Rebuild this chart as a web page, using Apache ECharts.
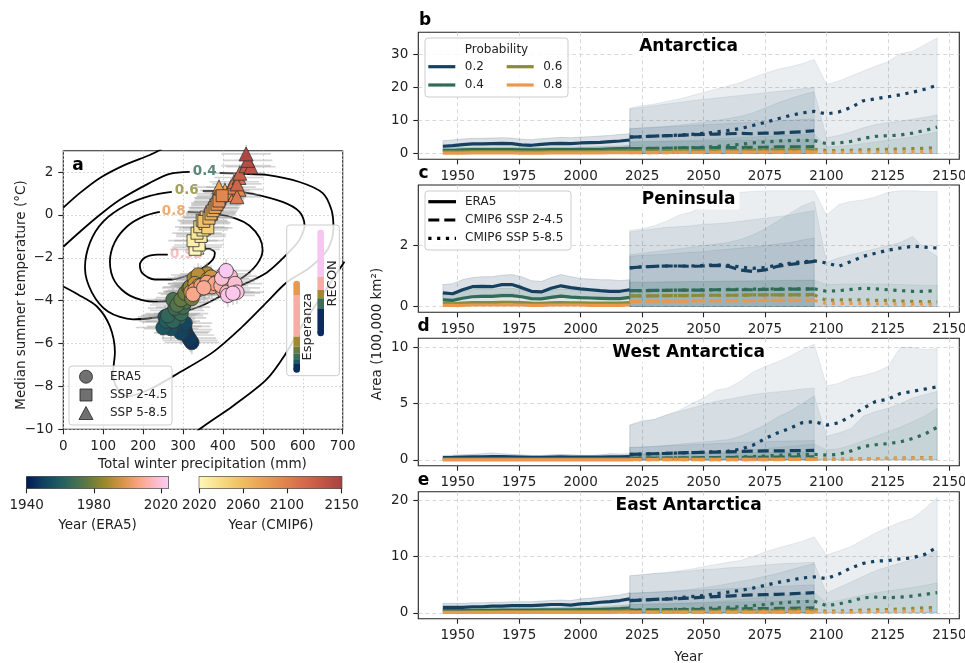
<!DOCTYPE html>
<html><head><meta charset="utf-8">
<script src="https://cdn.jsdelivr.net/npm/echarts@6/dist/echarts.min.js"></script>
<style>html,body{margin:0;padding:0;background:#fff}#c{width:965px;height:663px}</style>
</head><body><div id="c"></div>
<script>
// ---------------- DATA ----------------
const ERA5_YEARS = [1944,1948,1952,1956,1960,1964,1968,1972,1976,1980,1984,1988,1992,1996,2000,2004,2008,2012,2016,2020];
const S245_YEARS = [2020,2025,2030,2035,2040,2045,2050,2055,2060,2065,2070,2075,2080,2085,2090,2095];
const S585_YEARS = [2020,2025,2030,2035,2040,2045,2050,2055,2060,2065,2070,2075,2080,2085,2090,2095,2100,2105,2110,2115,2120,2125,2130,2135,2140,2145];
const YEAR_TICKS = [1950,1975,2000,2025,2050,2075,2100,2125,2150];
const ANT_TICKS = [0,10,20,30], PEN_TICKS = [0,2,4], WAN_TICKS = [0,5,10], EAN_TICKS = [0,10,20];
const PRECIP_TICKS = [0,100,200,300,400,500,600,700];
const TEMP_TICKS = [-10,-8,-6,-4,-2,0,2];
const ERA5_CBAR_TICKS = [1940,1980,2020];
const CMIP6_CBAR_TICKS = [2020,2060,2100,2150];
const PROB_LABELS = ['0.2','0.4','0.6','0.8'];

// Antarctica
const ANT_ERA5_P2 = [2.2,2.4,2.7,2.9,2.9,3.0,3.1,3.0,2.6,2.5,2.8,3.0,3.1,3.0,3.2,3.3,3.4,3.6,3.8,4.1];
const ANT_ERA5_P2_LO = [0.9,1.0,1.1,1.2,1.2,1.3,1.3,1.2,1.0,1.0,1.1,1.2,1.3,1.2,1.3,1.4,1.4,1.5,1.6,1.8];
const ANT_ERA5_P2_HI = [3.9,4.1,4.4,4.6,4.6,4.7,4.8,4.7,4.3,4.2,4.5,4.7,4.9,4.8,5.0,5.1,5.3,5.5,5.8,6.0];
const ANT_ERA5_P4 = [1.0,1.0,1.1,1.2,1.2,1.2,1.2,1.2,1.1,1.1,1.1,1.2,1.2,1.2,1.3,1.3,1.3,1.4,1.5,1.6];
const ANT_ERA5_P4_LO = [0.4,0.4,0.4,0.5,0.5,0.5,0.5,0.5,0.4,0.4,0.4,0.5,0.5,0.5,0.5,0.5,0.5,0.6,0.6,0.7];
const ANT_ERA5_P4_HI = [1.7,1.7,1.8,1.9,1.9,1.9,1.9,1.9,1.8,1.8,1.8,1.9,1.9,1.9,2.0,2.0,2.1,2.2,2.3,2.5];
const ANT_ERA5_P6 = [0.5,0.5,0.5,0.6,0.6,0.6,0.6,0.6,0.5,0.5,0.5,0.6,0.6,0.6,0.6,0.6,0.6,0.7,0.7,0.8];
const ANT_ERA5_P8 = [0.15,0.15,0.15,0.2,0.2,0.2,0.2,0.2,0.15,0.15,0.15,0.2,0.2,0.2,0.2,0.2,0.2,0.25,0.25,0.3];
const ANT_S245_P2 = [5.0,5.1,5.3,5.4,5.5,5.7,5.8,5.9,6.0,6.1,6.0,6.2,6.2,6.4,6.6,6.9];
const ANT_S245_P4 = [1.5,1.5,1.6,1.6,1.7,1.7,1.7,1.8,1.8,1.8,1.9,1.9,2.0,2.0,2.0,2.1];
const ANT_S245_P6 = [0.7,0.7,0.7,0.8,0.8,0.8,0.8,0.8,0.9,0.9,0.9,0.9,0.9,1.0,1.0,1.0];
const ANT_S245_P8 = [0.3,0.3,0.3,0.3,0.35,0.35,0.35,0.35,0.4,0.4,0.4,0.4,0.4,0.45,0.45,0.45];
const ANT_S245_B2OUT = [13.5,14.0,14.5,15.0,15.5,16.0,16.4,16.8,17.2,17.6,18.0,18.4,18.8,19.2,19.6,20.0];
const ANT_S245_B2IN = [7.5,7.7,7.9,8.1,8.3,8.5,8.7,8.9,9.1,9.3,9.5,9.7,9.9,10.1,10.3,10.5];
const ANT_S245_B4 = [3.5,3.6,3.6,3.7,3.7,3.8,3.8,3.9,3.9,4.0,4.0,4.1,4.1,4.2,4.2,4.3];
const ANT_S585_P2 = [5.0,5.1,5.3,5.4,5.6,5.8,6.1,6.5,7.0,7.6,8.5,9.4,10.5,11.5,12.3,12.8,12.0,12.6,14.0,16.0,16.6,17.2,17.8,18.6,19.5,20.7];
const ANT_S585_P4 = [1.5,1.5,1.6,1.6,1.7,1.8,1.9,2.1,2.4,2.8,3.2,3.5,3.8,3.9,4.0,3.9,3.0,3.2,3.7,4.6,5.2,5.4,5.6,6.2,7.0,8.0];
const ANT_S585_P6 = [0.7,0.7,0.7,0.8,0.8,0.8,0.9,0.9,1.0,1.0,1.1,1.1,1.2,1.2,1.3,1.3,0.9,0.9,1.0,1.1,1.2,1.3,1.4,1.5,1.6,1.8];
const ANT_S585_P8 = [0.3,0.3,0.3,0.3,0.35,0.35,0.35,0.4,0.4,0.4,0.45,0.45,0.5,0.5,0.5,0.5,0.35,0.35,0.4,0.4,0.45,0.45,0.5,0.5,0.55,0.6];
const ANT_S585_B2OUT = [13.8,14.5,15.0,15.8,16.5,17.5,18.5,19.5,20.5,21.5,23.0,24.3,25.5,26.3,27.2,28.5,21.0,22.0,23.5,25.0,26.5,27.8,30.3,31.0,33.0,35.0];
const ANT_S585_B2IN = [7.5,7.8,8.0,8.3,8.6,9.0,9.5,10.0,10.6,11.3,12.3,13.8,15.3,16.6,17.8,18.7,4.8,5.5,6.5,7.8,8.8,9.4,9.8,10.4,11.0,11.7];
const ANT_S585_B4 = [3.5,3.6,3.7,3.8,3.9,4.0,4.2,4.4,4.6,4.8,5.0,5.2,5.4,5.6,5.8,6.0,2.0,2.2,2.5,3.0,3.5,4.0,4.5,5.0,5.8,6.5];

// Peninsula
const PEN_ERA5_P2 = [0.45,0.42,0.55,0.65,0.66,0.65,0.72,0.72,0.62,0.5,0.48,0.6,0.68,0.62,0.58,0.55,0.52,0.5,0.5,0.55];
const PEN_ERA5_P2_LO = [0.25,0.22,0.3,0.36,0.38,0.38,0.42,0.42,0.35,0.28,0.26,0.33,0.38,0.35,0.32,0.3,0.3,0.28,0.28,0.3];
const PEN_ERA5_P2_HI = [0.72,0.75,0.88,0.95,0.98,0.98,1.03,1.05,0.98,0.85,0.82,0.95,1.05,0.98,0.92,0.9,0.88,0.88,0.85,0.88];
const PEN_ERA5_P4 = [0.22,0.2,0.27,0.32,0.33,0.33,0.36,0.36,0.32,0.26,0.25,0.3,0.34,0.31,0.29,0.28,0.27,0.26,0.26,0.3];
const PEN_ERA5_P4_LO = [0.1,0.09,0.12,0.15,0.15,0.15,0.17,0.17,0.15,0.12,0.11,0.14,0.16,0.14,0.13,0.13,0.12,0.12,0.12,0.14];
const PEN_ERA5_P4_HI = [0.42,0.4,0.5,0.55,0.57,0.57,0.6,0.6,0.55,0.48,0.46,0.53,0.58,0.55,0.52,0.5,0.49,0.48,0.48,0.52];
const PEN_ERA5_P6 = [0.1,0.09,0.11,0.13,0.13,0.13,0.14,0.14,0.13,0.11,0.1,0.12,0.13,0.12,0.12,0.11,0.11,0.11,0.11,0.13];
const PEN_ERA5_P8 = [0.04,0.04,0.04,0.05,0.05,0.05,0.05,0.05,0.05,0.04,0.04,0.05,0.05,0.05,0.05,0.04,0.04,0.04,0.04,0.05];
const PEN_S245_P2 = [1.27,1.30,1.32,1.33,1.33,1.32,1.33,1.35,1.32,1.20,1.15,1.20,1.32,1.38,1.43,1.48];
const PEN_S245_P4 = [0.52,0.52,0.53,0.53,0.54,0.54,0.54,0.55,0.55,0.55,0.55,0.56,0.56,0.57,0.57,0.58];
const PEN_S245_P6 = [0.35,0.35,0.35,0.36,0.36,0.36,0.37,0.37,0.37,0.37,0.38,0.38,0.38,0.38,0.39,0.39];
const PEN_S245_P8 = [0.17,0.17,0.18,0.18,0.18,0.18,0.19,0.19,0.19,0.19,0.19,0.2,0.2,0.2,0.2,0.2];
const PEN_S245_B2OUT = [2.45,2.5,2.55,2.6,2.62,2.65,2.7,2.72,2.75,2.8,2.85,2.9,2.95,3.0,3.08,3.15];
const PEN_S245_B2IN = [1.65,1.68,1.7,1.72,1.75,1.78,1.8,1.85,1.88,1.92,1.95,2.0,2.05,2.1,2.18,2.25];
const PEN_S245_B4 = [0.8,0.8,0.8,0.81,0.81,0.82,0.82,0.82,0.83,0.83,0.84,0.84,0.85,0.85,0.86,0.86];
const PEN_S585_P2 = [1.27,1.30,1.32,1.33,1.33,1.33,1.35,1.37,1.35,1.30,1.25,1.28,1.36,1.42,1.47,1.50,1.43,1.32,1.48,1.65,1.75,1.85,1.92,1.98,1.95,1.92];
const PEN_S585_P4 = [0.52,0.52,0.53,0.53,0.54,0.54,0.55,0.55,0.56,0.56,0.57,0.57,0.58,0.58,0.58,0.58,0.5,0.52,0.56,0.6,0.58,0.55,0.52,0.5,0.5,0.52];
const PEN_S585_P6 = [0.35,0.35,0.35,0.36,0.36,0.36,0.37,0.37,0.37,0.37,0.38,0.38,0.38,0.38,0.38,0.38,0.2,0.22,0.22,0.22,0.2,0.2,0.18,0.17,0.16,0.15];
const PEN_S585_P8 = [0.17,0.17,0.18,0.18,0.18,0.18,0.19,0.19,0.19,0.19,0.19,0.2,0.2,0.2,0.2,0.2,0.1,0.1,0.1,0.1,0.09,0.09,0.08,0.08,0.08,0.07];
const PEN_S585_B2OUT = [2.5,2.55,2.65,2.8,3.0,3.1,3.3,3.55,3.7,3.75,3.78,3.8,3.8,3.8,3.8,3.8,3.0,3.35,3.45,3.5,3.6,3.75,3.8,3.8,3.78,3.78];
const PEN_S585_B2IN = [1.7,1.75,1.8,1.85,1.9,1.95,2.0,2.05,2.1,2.2,2.35,2.55,2.8,3.05,3.3,3.45,1.45,1.6,1.7,1.8,1.9,2.0,2.1,2.3,1.9,1.65];
const PEN_S585_B4 = [0.8,0.8,0.8,0.81,0.81,0.82,0.82,0.83,0.83,0.84,0.84,0.85,0.85,0.86,0.86,0.86,0.72,0.73,0.74,0.75,0.74,0.73,0.72,0.71,0.7,0.7];

// West Antarctica
const WAN_ERA5_P2 = [0.2,0.22,0.25,0.27,0.28,0.3,0.3,0.28,0.25,0.22,0.22,0.25,0.27,0.26,0.25,0.24,0.25,0.27,0.28,0.3];
const WAN_ERA5_P2_LO = [0.06,0.07,0.08,0.09,0.1,0.1,0.1,0.09,0.08,0.07,0.07,0.08,0.09,0.09,0.08,0.08,0.08,0.09,0.09,0.1];
const WAN_ERA5_P2_HI = [0.38,0.42,0.46,0.5,0.55,0.62,0.55,0.5,0.45,0.4,0.4,0.45,0.5,0.46,0.42,0.4,0.45,0.55,0.52,0.55];
const WAN_ERA5_P4 = [0.08,0.09,0.1,0.1,0.11,0.12,0.12,0.11,0.1,0.09,0.09,0.1,0.11,0.1,0.1,0.1,0.1,0.11,0.11,0.12];
const WAN_ERA5_P4_LO = [0.02,0.02,0.03,0.03,0.03,0.03,0.03,0.03,0.03,0.02,0.02,0.03,0.03,0.03,0.03,0.03,0.03,0.03,0.03,0.03];
const WAN_ERA5_P4_HI = [0.18,0.2,0.22,0.23,0.25,0.27,0.26,0.24,0.22,0.2,0.2,0.22,0.24,0.22,0.21,0.2,0.21,0.24,0.23,0.25];
const WAN_ERA5_P6 = [0.04,0.04,0.05,0.05,0.05,0.05,0.05,0.05,0.05,0.04,0.04,0.05,0.05,0.05,0.05,0.05,0.05,0.05,0.05,0.05];
const WAN_ERA5_P8 = [0.01,0.01,0.01,0.01,0.01,0.01,0.01,0.01,0.01,0.01,0.01,0.01,0.01,0.01,0.01,0.01,0.01,0.01,0.01,0.01];
const WAN_S245_P2 = [0.5,0.52,0.55,0.58,0.62,0.65,0.68,0.7,0.72,0.75,0.78,0.8,0.8,0.82,0.83,0.85];
const WAN_S245_P4 = [0.15,0.15,0.16,0.17,0.18,0.19,0.2,0.2,0.21,0.22,0.23,0.24,0.25,0.26,0.27,0.28];
const WAN_S245_P6 = [0.06,0.06,0.06,0.07,0.07,0.07,0.08,0.08,0.08,0.08,0.09,0.09,0.09,0.1,0.1,0.1];
const WAN_S245_P8 = [0.02,0.02,0.02,0.02,0.02,0.02,0.03,0.03,0.03,0.03,0.03,0.03,0.03,0.04,0.04,0.04];
const WAN_S245_B2OUT = [3.1,3.4,3.6,4.0,4.3,4.6,4.9,5.2,5.4,5.6,5.8,5.95,6.05,6.15,6.3,6.4];
const WAN_S245_B2IN = [1.1,1.15,1.2,1.25,1.3,1.35,1.4,1.45,1.5,1.55,1.6,1.62,1.65,1.68,1.7,1.72];
const WAN_S245_B4 = [0.5,0.5,0.52,0.53,0.55,0.56,0.58,0.6,0.61,0.62,0.64,0.65,0.66,0.68,0.69,0.7];
const WAN_S585_P2 = [0.5,0.52,0.55,0.58,0.62,0.65,0.68,0.72,0.78,0.95,1.3,1.9,2.4,2.8,3.3,3.4,3.1,3.3,3.9,4.6,5.2,5.4,5.9,6.1,6.3,6.5];
const WAN_S585_P4 = [0.15,0.15,0.16,0.17,0.18,0.19,0.2,0.21,0.23,0.26,0.3,0.35,0.4,0.45,0.5,0.5,0.42,0.5,0.8,1.2,1.35,1.45,1.6,1.9,2.3,2.9];
const WAN_S585_P6 = [0.06,0.06,0.06,0.07,0.07,0.07,0.08,0.08,0.08,0.09,0.1,0.1,0.11,0.12,0.12,0.12,0.06,0.07,0.08,0.1,0.12,0.14,0.16,0.18,0.2,0.22];
const WAN_S585_P8 = [0.02,0.02,0.02,0.02,0.02,0.02,0.03,0.03,0.03,0.03,0.03,0.03,0.04,0.04,0.04,0.04,0.05,0.06,0.08,0.1,0.12,0.13,0.14,0.15,0.17,0.2];
const WAN_S585_B2OUT = [3.1,3.5,3.6,4.0,4.4,5.0,5.5,6.2,6.4,7.0,7.8,8.3,8.7,9.2,9.8,10.3,6.6,6.8,7.3,7.5,7.8,8.3,10.0,10.0,9.8,9.9];
const WAN_S585_B2IN = [1.1,1.15,1.2,1.3,1.4,1.5,1.6,1.7,1.8,2.1,2.6,3.1,3.8,4.3,5.0,5.7,2.1,2.4,2.8,3.9,4.3,4.6,5.0,5.5,5.8,6.1];
const WAN_S585_B4 = [0.5,0.5,0.55,0.55,0.6,0.6,0.65,0.7,0.75,0.8,0.9,1.0,1.1,1.2,1.3,1.4,0.9,1.0,1.3,1.7,2.1,2.5,2.9,3.4,3.9,4.6];

// East Antarctica
const EAN_ERA5_P2 = [1.0,1.0,1.0,1.1,1.1,1.2,1.2,1.3,1.3,1.3,1.4,1.5,1.5,1.4,1.6,1.7,1.9,2.0,2.2,2.5];
const EAN_ERA5_P2_LO = [0.4,0.4,0.4,0.45,0.45,0.5,0.5,0.55,0.55,0.55,0.6,0.6,0.65,0.6,0.7,0.75,0.8,0.9,1.0,1.1];
const EAN_ERA5_P2_HI = [1.7,1.7,1.7,1.8,1.8,1.9,1.9,2.0,2.0,2.0,2.1,2.2,2.3,2.2,2.5,2.6,2.8,3.0,3.2,3.6];
const EAN_ERA5_P4 = [0.4,0.4,0.4,0.45,0.45,0.45,0.5,0.5,0.5,0.5,0.55,0.55,0.55,0.55,0.6,0.6,0.65,0.7,0.75,0.85];
const EAN_ERA5_P4_LO = [0.15,0.15,0.15,0.17,0.17,0.17,0.19,0.19,0.19,0.19,0.2,0.2,0.2,0.2,0.22,0.22,0.24,0.26,0.28,0.3];
const EAN_ERA5_P4_HI = [0.75,0.75,0.75,0.8,0.8,0.8,0.85,0.85,0.85,0.85,0.9,0.9,0.95,0.95,1.0,1.05,1.1,1.2,1.3,1.45];
const EAN_ERA5_P6 = [0.2,0.2,0.2,0.22,0.22,0.22,0.24,0.24,0.24,0.24,0.26,0.26,0.26,0.26,0.28,0.28,0.3,0.31,0.33,0.36];
const EAN_ERA5_P8 = [0.08,0.08,0.08,0.08,0.08,0.08,0.09,0.09,0.09,0.09,0.1,0.1,0.1,0.1,0.1,0.1,0.11,0.11,0.12,0.13];
const EAN_S245_P2 = [2.2,2.3,2.4,2.45,2.55,2.65,2.8,2.9,3.0,3.1,3.2,3.25,3.3,3.4,3.5,3.6];
const EAN_S245_P4 = [0.5,0.5,0.55,0.55,0.6,0.6,0.65,0.65,0.7,0.7,0.75,0.75,0.8,0.8,0.85,0.9];
const EAN_S245_P6 = [0.25,0.25,0.26,0.27,0.28,0.29,0.3,0.3,0.31,0.32,0.33,0.34,0.35,0.36,0.37,0.38];
const EAN_S245_P8 = [0.1,0.1,0.1,0.1,0.11,0.11,0.11,0.12,0.12,0.12,0.12,0.13,0.13,0.13,0.14,0.14];
const EAN_S245_B2OUT = [6.6,6.8,7.0,7.1,7.3,7.5,7.7,7.8,8.0,8.1,8.3,8.5,8.7,8.8,8.9,9.0];
const EAN_S245_B2IN = [3.5,3.6,3.7,3.8,3.9,4.0,4.1,4.2,4.3,4.4,4.5,4.6,4.7,4.8,4.9,5.0];
const EAN_S245_B4 = [1.5,1.55,1.6,1.65,1.7,1.75,1.8,1.85,1.9,1.95,2.0,2.05,2.1,2.15,2.2,2.2];
const EAN_S585_P2 = [2.2,2.3,2.4,2.5,2.7,2.9,3.1,3.4,3.7,4.0,4.4,4.9,5.4,5.8,6.2,6.4,6.1,6.9,8.0,8.8,9.2,9.3,9.6,9.8,10.4,11.7];
const EAN_S585_P4 = [0.5,0.5,0.55,0.6,0.65,0.7,0.8,0.9,1.0,1.1,1.3,1.5,1.7,1.9,2.0,2.1,1.3,1.6,2.1,2.7,2.8,2.7,2.8,3.0,3.3,3.6];
const EAN_S585_P6 = [0.25,0.25,0.26,0.27,0.28,0.3,0.32,0.34,0.36,0.38,0.4,0.43,0.46,0.5,0.55,0.6,0.3,0.35,0.4,0.5,0.55,0.6,0.7,0.8,0.9,1.0];
const EAN_S585_P8 = [0.1,0.1,0.1,0.1,0.11,0.11,0.12,0.12,0.13,0.13,0.14,0.15,0.16,0.17,0.18,0.2,0.12,0.14,0.16,0.2,0.24,0.28,0.32,0.36,0.4,0.5];
const EAN_S585_B2OUT = [6.6,6.8,7.0,7.2,7.5,7.8,8.2,8.6,9.0,9.3,10.0,10.8,11.5,12.1,12.7,13.5,10.3,11.0,11.8,13.0,14.2,15.2,16.1,16.8,18.5,20.5];
const EAN_S585_B2IN = [3.5,3.6,3.7,3.8,4.0,4.2,4.5,4.8,5.2,5.6,6.0,6.5,7.0,7.6,8.2,8.8,3.5,4.5,5.5,6.5,7.5,8.2,8.8,9.5,10.2,11.0];
const EAN_S585_B4 = [1.5,1.5,1.6,1.6,1.7,1.8,1.9,2.0,2.2,2.4,2.6,2.8,3.0,3.2,3.4,3.6,1.8,2.2,2.7,3.2,3.6,3.9,4.2,4.5,4.9,5.3];

// Panel a: [precip mm, temp degC, year]
const ERA5_POINTS = [
[318,-5.85,1944],[310,-5.6,1945],[322,-5.95,1946],[305,-5.35,1947],[315,-5.75,1948],[300,-5.45,1949],
[300,-5.2,1950],[295,-5.5,1951],[305,-5.05,1952],[278,-5.2,1953],[262,-4.85,1954],[270,-5.3,1955],
[255,-4.75,1956],[265,-5.0,1957],[250,-5.25,1958],[275,-4.6,1959],[258,-4.95,1960],[282,-4.7,1961],
[268,-4.65,1962],[290,-4.8,1963],[275,-4.95,1964],[262,-4.7,1965],[285,-4.45,1966],[295,-4.6,1967],
[280,-4.35,1968],[300,-4.3,1969],[290,-4.1,1970],[275,-3.95,1971],[305,-4.05,1972],[285,-4.2,1973],
[300,-3.85,1974],[312,-3.7,1975],[295,-3.95,1976],[318,-3.55,1977],[305,-3.65,1978],[322,-3.9,1979],
[315,-3.4,1980],[325,-3.55,1981],[330,-3.2,1982],[318,-3.35,1983],[340,-3.0,1984],[335,-3.3,1985],
[345,-2.9,1986],[328,-2.95,1987],[355,-2.85,1988],[342,-3.15,1989],[360,-2.75,1990],[350,-3.05,1991],
[338,-2.8,1992],[362,-3.0,1993],[330,-3.2,1994],[348,-3.25,1995],[370,-2.9,1996],[355,-3.35,1997],
[320,-3.6,1998],[340,-3.3,1999],[365,-3.3,2000],[375,-3.2,2001],[383,-3.15,2002],[330,-3.5,2003],
[345,-3.3,2004],[360,-3.15,2005],[372,-3.35,2006],[380,-3.2,2007],[325,-3.7,2008],[352,-3.4,2009],
[400,-3.5,2010],[412,-3.1,2011],[395,-3.3,2012],[425,-3.4,2013],[410,-3.6,2014],[420,-3.0,2015],
[402,-2.75,2016],[418,-2.85,2017],[430,-3.2,2018],[397,-2.95,2019],[435,-3.6,2020],[412,-3.75,2021],[425,-3.65,2022],[408,-2.6,2023]
];
const SSP245_POINTS = [
[330,-1.6,2020],[340,-1.4,2023],[325,-1.2,2026],[345,-1.0,2029],[335,-0.85,2032],[350,-0.7,2035],
[342,-0.55,2038],[355,-0.4,2041],[348,-0.25,2044],[362,-0.6,2047],[358,-0.1,2050],[368,0.0,2053],
[352,-0.3,2056],[372,0.15,2059],[365,-0.15,2062],[378,0.3,2065],[370,0.05,2068],[382,0.45,2071],
[375,0.2,2074],[388,0.6,2077],[380,0.35,2080],[392,0.75,2083],[385,0.5,2086],[395,0.85,2089],[390,0.65,2092],[398,0.9,2095]
];
const SSP585_POINTS = [
[335,-1.5,2020],[340,-1.2,2025],[345,-0.9,2030],[352,-0.6,2035],[358,-0.35,2040],[362,-0.1,2045],
[370,0.1,2050],[375,0.35,2055],[382,0.55,2060],[390,0.8,2065],[395,1.0,2070],[405,1.15,2075],
[390,1.3,2080],[415,1.05,2085],[430,0.95,2090],[440,1.2,2095],[420,1.3,2100],[435,0.85,2105],
[428,1.55,2110],[440,1.75,2115],[435,1.45,2120],[442,1.95,2125],[458,2.3,2130],[470,2.25,2135],[462,2.55,2140],[458,2.85,2145]
];
const ERA5_ERR = [68, 0.55];
const CMIP6_ERR = [62, 0.42];

// Probability contours (precip mm, temp degC); each level split where its inline label sits
const CONT_20_A = [[0,0.34],[41.8,1.03],[91.8,1.73],[154.3,2.34],[216.8,2.8],[246.8,3.08]];
const CONT_20_B = [[704.3,-2.18],[641.8,-3.94],[591.8,-5.34],[559.3,-6.41],[509.3,-7.67],[424.3,-8.92],[341.8,-9.99],[316.8,-10.46]];
const CONT_40_A = [[0,-1.48],[41.8,-0.78],[91.8,0.01],[141.8,0.71],[216.8,1.5],[266.8,1.92],[316.8,2.01]];
const CONT_40_B = [[391.8,1.96],[449.3,1.92],[509.3,1.87],[591.8,1.54],[649.3,1.03],[671.8,0.24],[676.8,-0.6],[661.8,-1.62],[616.8,-2.46],[559.3,-3.15],[509.3,-4.08],[449.3,-5.2],[374.3,-6.41],[291.8,-7.34],[216.8,-8.13],[159.3,-8.46],[136.8,-8.13],[124.3,-7.43],[129.3,-6.41],[116.8,-5.2],[84.3,-4.27],[36.8,-3.71],[0,-3.34]];
const CONT_60 = [[271.8,1.08],[216.8,0.89],[154.3,0.43],[99.3,-0.32],[66.8,-1.29],[54.3,-2.46],[71.8,-3.62],[111.8,-4.5],[174.3,-4.87],[259.3,-4.69],[341.8,-4.27],[424.3,-3.48],[509.3,-2.69],[559.3,-1.85],[591.8,-1.15],[604.3,-0.46],[591.8,0.15],[549.3,0.61],[474.3,0.99],[416.8,1.13],[349.3,1.13]];
const CONT_80 = [[241.8,0.15],[204.3,-0.04],[161.8,-0.5],[129.3,-1.25],[116.8,-2.18],[129.3,-3.11],[166.8,-3.76],[229.3,-4.04],[304.3,-3.94],[379.3,-3.57],[441.8,-3.01],[484.3,-2.32],[499.3,-1.62],[491.8,-1.06],[466.8,-0.5],[434.3,-0.18],[379.3,0.06],[311.8,0.15]];
const CONT_95 = [[342.3,-1.67],[362.3,-1.57],[379.8,-1.76],[374.8,-2.08],[354.3,-2.41],[316.8,-2.78],[271.8,-3.01],[229.3,-3.01],[199.3,-2.74],[191.8,-2.32],[204.3,-1.99],[236.8,-1.85],[261.8,-1.85]];
const CONTOUR_LABELS = [['0.4',354.3,2.01],['0.6',309.3,1.13],['0.8',276.8,0.15],['0.95',309.3,-1.85]];

// ---------------- STYLE ----------------
const FONT = 'DejaVu Sans';
const PROB_COLORS = ['#16405f','#2f6b57','#8b8a38','#e9984f'];
const LABEL_COLORS = ['#2f6b57','#8b8a38','#e9984f','#f8b3b3'];
const BATLOW = ['#011959','#103F60','#1C5A62','#3C6D56','#687B3E','#9D892B','#D29343','#F8A17B','#FDB7BC','#FACCFA'];
const LAJOLLA = ['#FEF7B8','#F7DD86','#F0C163','#EAA456','#E3884F','#D76D4B','#C45646','#A84242'];
const DASH = [11,5], DOT = [3.2,5.6];

function rgba(hex, a){const n=parseInt(hex.slice(1),16);return 'rgba('+((n>>16)&255)+','+((n>>8)&255)+','+(n&255)+','+a+')';}
const fmtMinus = v => v < 0 ? '\u2212' + (-v) : String(v);

function valAxis(gi, min, max, ticks, split, fmt){
  return {type:'value', gridIndex:gi, min, max,
    axisLine:{show:false, onZero:false},
    axisTick:{show:true, inside:false, length:5, customValues:ticks, lineStyle:{color:'#222', width:1.1}},
    axisLabel:{show:true, customValues:ticks, color:'#222', fontSize:13.5, margin:10, fontFamily:FONT, formatter:fmt||(v=>String(v))},
    splitLine: split ? {show:true, lineStyle:{color:split[0], type:split[1], width:0.9}} : {show:false}
  };
}

const GRIDS = [
  {left:63.3, top:150.7, width:279.4, height:278.6},
  {left:418.3, top:32.3, width:541, height:127},
  {left:418.3, top:185, width:541, height:127.3},
  {left:418.3, top:338.3, width:541, height:127.4},
  {left:418.3, top:491.7, width:541, height:127},
  {left:26.7, top:476.7, width:141.6, height:11.6},
  {left:199.3, top:476.7, width:142.4, height:11.6}
].map(g => Object.assign({show:true, borderColor:'#222', borderWidth:1.1, backgroundColor:'transparent', containLabel:false, outerBoundsMode:'none'}, g));

const GRID_DASH = ['#d4d4d4',[4,3]];
const GRID_DOT = ['#c8c8c8',[1.5,2.5]];
const xAxes = [
  valAxis(0, 0, 700, PRECIP_TICKS, GRID_DOT),
  valAxis(1, 1934, 2154, YEAR_TICKS, GRID_DASH),
  valAxis(2, 1934, 2154, YEAR_TICKS, GRID_DASH),
  valAxis(3, 1934, 2154, YEAR_TICKS, GRID_DASH),
  valAxis(4, 1934, 2154, YEAR_TICKS, GRID_DASH),
  valAxis(5, 1940, 2024.4, ERA5_CBAR_TICKS, null),
  valAxis(6, 2020, 2150, CMIP6_CBAR_TICKS, null)
];
xAxes.forEach(a => a.position = 'bottom');
const yAxes = [
  valAxis(0, -10, 3, TEMP_TICKS, GRID_DOT, fmtMinus),
  valAxis(1, -1.75, 36.75, ANT_TICKS, GRID_DASH),
  valAxis(2, -0.19, 3.99, PEN_TICKS, GRID_DASH),
  valAxis(3, -0.515, 10.815, WAN_TICKS, GRID_DASH),
  valAxis(4, -1.025, 21.525, EAN_TICKS, GRID_DASH),
  {type:'value', gridIndex:5, min:0, max:1, show:false},
  {type:'value', gridIndex:6, min:0, max:1, show:false}
];
yAxes.forEach(a => a.position = 'left');

const series = [];
// ---- panel a ----
function lineOn0(data, color, width){
  return {type:'line', xAxisIndex:0, yAxisIndex:0, data, smooth:0.3, showSymbol:false, symbol:'none',
    lineStyle:{color, width}, z:2, silent:true, clip:true, animation:false};
}
[CONT_20_A, CONT_20_B, CONT_40_A, CONT_40_B, CONT_60, CONT_80, CONT_95]
  .forEach(c => series.push(lineOn0(c, '#000', 1.8)));

series.push({type:'scatter', xAxisIndex:0, yAxisIndex:0, symbolSize:0, z:2, silent:true,
  data: CONTOUR_LABELS.map((l,i)=>({value:[l[1],l[2]], label:{show:true, formatter:l[0], color:LABEL_COLORS[i]}})),
  label:{show:true, position:'inside', fontSize:13.5, fontWeight:'bold', fontFamily:FONT}});

function errSeries(points, err){
  return {type:'custom', xAxisIndex:0, yAxisIndex:0, z:3, silent:true, data:points,
    renderItem:(p, api)=>{
      const x=api.value(0), y=api.value(1);
      const a=api.coord([x-err[0],y]), b=api.coord([x+err[0],y]), c=api.coord([x,y-err[1]]), d=api.coord([x,y+err[1]]);
      const st={stroke:'rgba(160,160,160,0.45)', lineWidth:1.7};
      return {type:'group', children:[
        {type:'line', shape:{x1:a[0],y1:a[1],x2:b[0],y2:b[1]}, style:st},
        {type:'line', shape:{x1:c[0],y1:c[1],x2:d[0],y2:d[1]}, style:st}]};
    }};
}
series.push(errSeries(ERA5_POINTS, ERA5_ERR));
series.push(errSeries(SSP245_POINTS, CMIP6_ERR));
series.push(errSeries(SSP585_POINTS, CMIP6_ERR));
const idxTri = series.length;
series.push({type:'scatter', xAxisIndex:0, yAxisIndex:0, data:SSP585_POINTS, symbol:'triangle', symbolSize:14, z:4,
  itemStyle:{borderColor:'#333', borderWidth:0.8, opacity:1}});
const idxSq = series.length;
series.push({type:'scatter', xAxisIndex:0, yAxisIndex:0, data:SSP245_POINTS, symbol:'rect', symbolSize:12, z:5,
  itemStyle:{borderColor:'#333', borderWidth:0.8, opacity:1}});
const idxCirc = series.length;
series.push({type:'scatter', xAxisIndex:0, yAxisIndex:0, data:ERA5_POINTS, symbol:'circle', symbolSize:14.5, z:5,
  itemStyle:{borderColor:'#333', borderWidth:0.8, opacity:1}});

// ---- colorbars ----
function cbarSeries(gi, min, max, stops){
  return {type:'custom', xAxisIndex:gi, yAxisIndex:gi, silent:true, data:[[min,0]],
    renderItem:(p, api)=>{
      const a=api.coord([min,0]), b=api.coord([max,1]);
      return {type:'rect', shape:{x:a[0], y:b[1], width:b[0]-a[0], height:a[1]-b[1]},
        style:{fill:new echarts.graphic.LinearGradient(0,0,1,0, stops.map((c,i)=>({offset:i/(stops.length-1), color:c})))}};
    }};
}
series.push(cbarSeries(5, 1940, 2024.4, BATLOW));
series.push(cbarSeries(6, 2020, 2150, LAJOLLA));

// ---- time series panels ----
function bandSeries(gi, years, lo, hi, color, alpha){
  return {type:'custom', xAxisIndex:gi, yAxisIndex:gi, clip:true, silent:true, z:1, data:[[years[0], hi[0]]],
    renderItem:(p, api)=>{
      const pts=[];
      for(let i=0;i<years.length;i++) pts.push(api.coord([years[i], hi[i]]));
      for(let i=years.length-1;i>=0;i--) pts.push(api.coord([years[i], Array.isArray(lo)?lo[i]:lo]));
      return {type:'polygon', shape:{points:pts}, style:{fill:rgba(color,alpha), stroke:rgba(color,alpha*1.3), lineWidth:0.8}};
    }};
}
function tsLine(gi, years, vals, color, type){
  return {type:'line', xAxisIndex:gi, yAxisIndex:gi, data:years.map((y,i)=>[y, vals[i]]), showSymbol:false, symbol:'none',
    lineStyle:{color, width:3.2, type, cap:'butt'}, z:3, silent:true, clip:true};
}
const PANELS = [
  {gi:1, era5:[ANT_ERA5_P2,ANT_ERA5_P4,ANT_ERA5_P6,ANT_ERA5_P8], eb:[[ANT_ERA5_P2_LO,ANT_ERA5_P2_HI,0],[ANT_ERA5_P4_LO,ANT_ERA5_P4_HI,1]],
   s245:[ANT_S245_P2,ANT_S245_P4,ANT_S245_P6,ANT_S245_P8], b245:[[ANT_S245_B2OUT,0],[ANT_S245_B2IN,0],[ANT_S245_B4,1]],
   s585:[ANT_S585_P2,ANT_S585_P4,ANT_S585_P6,ANT_S585_P8], b585:[[ANT_S585_B2OUT,0],[ANT_S585_B2IN,0],[ANT_S585_B4,1]]},
  {gi:2, era5:[PEN_ERA5_P2,PEN_ERA5_P4,PEN_ERA5_P6,PEN_ERA5_P8], eb:[[PEN_ERA5_P2_LO,PEN_ERA5_P2_HI,0],[PEN_ERA5_P4_LO,PEN_ERA5_P4_HI,1]],
   s245:[PEN_S245_P2,PEN_S245_P4,PEN_S245_P6,PEN_S245_P8], b245:[[PEN_S245_B2OUT,0],[PEN_S245_B2IN,0],[PEN_S245_B4,1]],
   s585:[PEN_S585_P2,PEN_S585_P4,PEN_S585_P6,PEN_S585_P8], b585:[[PEN_S585_B2OUT,0],[PEN_S585_B2IN,0],[PEN_S585_B4,1]]},
  {gi:3, era5:[WAN_ERA5_P2,WAN_ERA5_P4,WAN_ERA5_P6,WAN_ERA5_P8], eb:[[WAN_ERA5_P2_LO,WAN_ERA5_P2_HI,0],[WAN_ERA5_P4_LO,WAN_ERA5_P4_HI,1]],
   s245:[WAN_S245_P2,WAN_S245_P4,WAN_S245_P6,WAN_S245_P8], b245:[[WAN_S245_B2OUT,0],[WAN_S245_B2IN,0],[WAN_S245_B4,1]],
   s585:[WAN_S585_P2,WAN_S585_P4,WAN_S585_P6,WAN_S585_P8], b585:[[WAN_S585_B2OUT,0],[WAN_S585_B2IN,0],[WAN_S585_B4,1]]},
  {gi:4, era5:[EAN_ERA5_P2,EAN_ERA5_P4,EAN_ERA5_P6,EAN_ERA5_P8], eb:[[EAN_ERA5_P2_LO,EAN_ERA5_P2_HI,0],[EAN_ERA5_P4_LO,EAN_ERA5_P4_HI,1]],
   s245:[EAN_S245_P2,EAN_S245_P4,EAN_S245_P6,EAN_S245_P8], b245:[[EAN_S245_B2OUT,0],[EAN_S245_B2IN,0],[EAN_S245_B4,1]],
   s585:[EAN_S585_P2,EAN_S585_P4,EAN_S585_P6,EAN_S585_P8], b585:[[EAN_S585_B2OUT,0],[EAN_S585_B2IN,0],[EAN_S585_B4,1]]}
];
PANELS.forEach(P=>{
  P.eb.forEach(b=>series.push(bandSeries(P.gi, ERA5_YEARS, b[0], b[1], PROB_COLORS[b[2]], 0.16)));
  P.b245.forEach(b=>series.push(bandSeries(P.gi, S245_YEARS, 0, b[0], PROB_COLORS[b[1]], 0.09)));
  P.b585.forEach(b=>series.push(bandSeries(P.gi, S585_YEARS, 0, b[0], PROB_COLORS[b[1]], 0.09)));
  for(let k=0;k<4;k++){
    series.push(tsLine(P.gi, ERA5_YEARS, P.era5[k], PROB_COLORS[k], 'solid'));
    series.push(tsLine(P.gi, S245_YEARS, P.s245[k], PROB_COLORS[k], DASH));
    series.push(tsLine(P.gi, S585_YEARS, P.s585[k], PROB_COLORS[k], DOT));
  }
});

// ---------------- GRAPHIC (text, legends) ----------------
const G = [];
function txt(x, y, text, o){
  return {type:'text', x, y, z:100, rotation:(o&&o.rot)||0,
    style:Object.assign({text, fill:'#222', fontFamily:FONT, fontSize:13.5, align:'center', verticalAlign:'middle'}, o&&o.s)};
}
const BOLD = {fontWeight:'bold', fontSize:17, fill:'#000'};
G.push(txt(78, 166, 'a', {s:BOLD}));
G.push(txt(425, 20.7, 'b', {s:BOLD}));
G.push(txt(423.5, 173.5, 'c', {s:BOLD}));
G.push(txt(423.5, 327, 'd', {s:BOLD}));
G.push(txt(423.5, 480.5, 'e', {s:BOLD}));
const TITLE_S = {fontWeight:'bold', fontSize:17, fill:'#000', backgroundColor:'#fff', padding:[1,4]};
G.push(txt(688.6, 46.7, 'Antarctica', {s:TITLE_S}));
G.push(txt(688.6, 200, 'Peninsula', {s:TITLE_S}));
G.push(txt(688.6, 352.7, 'West Antarctica', {s:TITLE_S}));
G.push(txt(688.6, 505.7, 'East Antarctica', {s:TITLE_S}));
G.push(txt(688.6, 657, 'Year', {}));
G.push(txt(377, 334, 'Area (100,000 km\u00b2)', {rot:Math.PI/2}));
G.push(txt(202.5, 464, 'Total winter precipitation (mm)', {}));
G.push(txt(21.5, 295, 'Median summer temperature (\u00b0C)', {rot:Math.PI/2}));
G.push(txt(97.5, 525, 'Year (ERA5)', {}));
G.push(txt(270.8, 525, 'Year (CMIP6)', {}));

function box(x,y,w,h){return {type:'rect', z:90, shape:{x,y,width:w,height:h,r:3}, style:{fill:'rgba(255,255,255,0.85)', stroke:'#cccccc', lineWidth:1}};}
function seg(x1,y1,x2,y2,color,dash){return {type:'line', z:95, shape:{x1,y1,x2,y2}, style:{stroke:color, lineWidth:3.2, lineDash:dash||null}};}
const LEG_S = {fontSize:12, align:'left'};
G.push(box(425,38,143,59));
G.push(txt(496.5,49.5,'Probability',{s:{fontSize:12}}));
[[428.3,66.7],[428.3,85],[506.7,66.7],[506.7,85]].forEach((p,k)=>{
  G.push(seg(p[0],p[1],p[0]+27,p[1],PROB_COLORS[k]));
  G.push(txt(p[0]+36.5,p[1],PROB_LABELS[k],{s:LEG_S}));
});
G.push(box(425,191,146,59));
[['ERA5',201.7,null],['CMIP6 SSP 2-4.5',220,DASH],['CMIP6 SSP 5-8.5',238.3,DOT]].forEach(e=>{
  G.push(seg(428.3,e[1],456,e[1],'#000',e[2]));
  G.push(txt(465,e[1],e[0],{s:LEG_S}));
});
G.push(box(69,366,103,59));
G.push({type:'circle', z:95, shape:{cx:86,cy:376.7,r:6.5}, style:{fill:'#707070', stroke:'#222', lineWidth:0.8}});
G.push({type:'rect', z:95, shape:{x:80,y:389,width:12,height:12}, style:{fill:'#707070', stroke:'#222', lineWidth:0.8}});
G.push({type:'polygon', z:95, shape:{points:[[86,406.5],[93,419.5],[79,419.5]]}, style:{fill:'#707070', stroke:'#222', lineWidth:0.8}});
G.push(txt(110,376.7,'ERA5',{s:LEG_S}));
G.push(txt(110,395,'SSP 2-4.5',{s:LEG_S}));
G.push(txt(110,413.3,'SSP 5-8.5',{s:LEG_S}));
G.push(box(286.7,225,52.6,150.7));
function bar(x, segs){
  segs.forEach(s=>{
    G.push({type:'rect', z:95, shape:{x:x-3.3, y:s[1], width:6.6, height:s[2]-s[1]}, style:{fill:s[0]}});
  });
  G.push({type:'circle', z:95, shape:{cx:x, cy:segs[0][1], r:3.3}, style:{fill:segs[0][0]}});
  G.push({type:'circle', z:95, shape:{cx:x, cy:segs[segs.length-1][2], r:3.3}, style:{fill:segs[segs.length-1][0]}});
}
bar(296.7, [['#e9984f',284,295],['#f9aca3',295,336.7],['#a08a30',336.7,346.7],['#6a7b3f',346.7,353.3],['#3c6d56',353.3,360],['#1c5a62',360,364],['#0c2c5e',364,369.5]]);
bar(320.7, [['#f6c6f0',233,276.7],['#f9aca3',276.7,290],['#a08a30',290,298.3],['#3c6d56',298.3,308.3],['#0c2c5e',308.3,333]]);
G.push(txt(307.5,326.7,'Esperanza',{rot:Math.PI/2, s:{fontSize:13}}));
G.push(txt(332.5,283.3,'RECON',{rot:Math.PI/2, s:{fontSize:13}}));

const option = {
  animation:false, backgroundColor:'#fff', textStyle:{fontFamily:FONT},
  grid:GRIDS, xAxis:xAxes, yAxis:yAxes,
  visualMap:[
    {type:'continuous', show:false, seriesIndex:[idxCirc], dimension:2, min:1940, max:2024.4, inRange:{color:BATLOW}},
    {type:'continuous', show:false, seriesIndex:[idxSq, idxTri], dimension:2, min:2020, max:2150, inRange:{color:LAJOLLA}}
  ],
  series, graphic:{elements:G}
};
const chart = echarts.init(document.getElementById('c'), null, {renderer:'canvas'});
chart.setOption(option);
</script></body></html>
